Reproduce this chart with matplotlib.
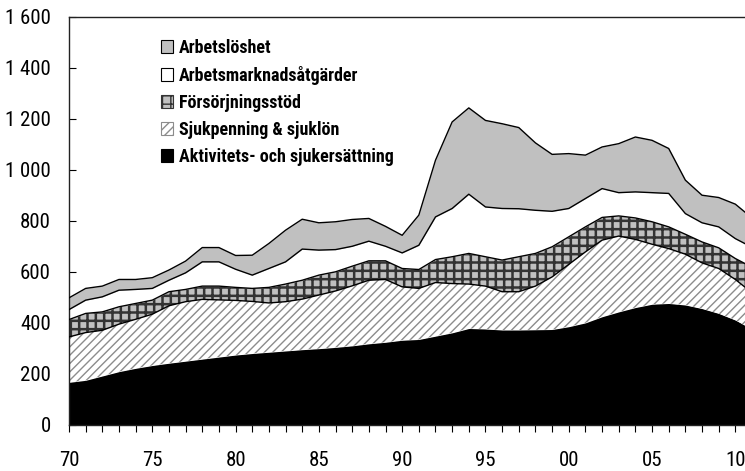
import matplotlib
matplotlib.use("Agg")
import matplotlib.pyplot as plt
from matplotlib import font_manager
from matplotlib.patches import Patch
import numpy as np

# ---------------------------------------------------------------- data
years = list(range(1970, 2012))

aktivitet = [167, 175, 192, 209, 222, 233, 242, 250, 258, 266,
             274, 280, 285, 290, 295, 299, 304, 310, 318, 324,
             332, 335, 348, 361, 378, 376, 372, 372, 373, 374,
             385, 400, 424, 443, 460, 473, 476, 470, 456, 437,
             411, 375]
sjukpenning = [178, 187, 179, 186, 192, 201, 225, 233, 234, 224,
               214, 204, 193, 193, 198, 210, 221, 235, 249, 246,
               209, 200, 210, 193, 174, 168, 150, 150, 171, 206,
               244, 278, 300, 297, 267, 235, 215, 199, 179, 176,
               159, 143]
forsorjning = [68, 75, 72, 68, 62, 55, 55, 48, 52, 54,
               51, 51, 61, 69, 74, 78, 75, 77, 76, 73,
               72, 74, 90, 105, 120, 115, 124, 137, 128, 118,
               108, 98, 89, 79, 84, 88, 85, 78, 82, 81,
               82, 100]
atgarder = [39, 52, 59, 65, 55, 46, 45, 65, 95, 95,
            71, 52, 74, 87, 122, 98, 87, 78, 77, 57,
            61, 95, 167, 189, 232, 195, 202, 188, 169, 139,
            111, 111, 113, 91, 102, 114, 131, 81, 75, 82,
            78, 78]
arbetsloshet = [46, 46, 42, 42, 39, 42, 40, 46, 56, 56,
                54, 78, 98, 124, 117, 107, 109, 105, 89, 78,
                69, 118, 222, 339, 338, 339, 332, 318, 264, 223,
                215, 170, 163, 192, 215, 205, 176, 131, 108, 115,
                135, 115]

labels = ["Aktivitets- och sjukersättning", "Sjukpenning & sjuklön",
          "Försörjningsstöd", "Arbetsmarknadsåtgärder", "Arbetslöshet"]
yticks = [0, 200, 400, 600, 800, 1000, 1200, 1400, 1600]
xticks = [1970, 1975, 1980, 1985, 1990, 1995, 2000, 2005, 2010]
xticklabels = ["70", "75", "80", "85", "90", "95", "00", "05", "10"]

# ---------------------------------------------------------------- fonts
available = {f.name for f in font_manager.fontManager.ttflist}
FONT = "DejaVu Sans"
for cand in ["Liberation Sans Narrow", "Roboto Condensed", "Open Sans Condensed",
             "Liberation Sans"]:
    if cand in available:
        FONT = cand
        break
plt.rcParams["font.family"] = [FONT, "DejaVu Sans"]

# ---------------------------------------------------------------- styles
# (facecolor, hatch colour, hatch, hatch linewidth) per layer, bottom to top
styles = [
    ("black", "black", None, 1.0),
    ("white", "#8c8c8c", "////", 1.0),
    ("#c0c0c0", "#333333", "++", 1.8),
    ("white", "white", None, 1.0),
    ("#c0c0c0", "#c0c0c0", None, 1.0),
]

series = [aktivitet, sjukpenning, forsorjning, atgarder, arbetsloshet]
x = np.array(years)
tops = np.cumsum(np.array(series), axis=0)

fig = plt.figure(figsize=(7.45, 4.71), dpi=100)
ax = fig.add_axes([69 / 745, 46 / 471, 683 / 745, 408.5 / 471])

bottom = np.zeros(len(years))
for i, (fc, hc, hatch, hlw) in enumerate(styles):
    with plt.rc_context({"hatch.linewidth": hlw}):
        ax.fill_between(x, bottom, tops[i], facecolor=fc, edgecolor=hc,
                        hatch=hatch, linewidth=0, zorder=2)
    bottom = tops[i]
for i in range(1, len(styles)):
    ax.plot(x, tops[i], color="black", linewidth=1.0, zorder=3)

ax.set_xlim(1970, 2011)
ax.set_ylim(0, 1600)

ax.set_yticks(yticks)
ax.set_yticklabels([f"{v:,}".replace(",", " ") for v in yticks])
ax.set_xticks(xticks)
ax.set_xticklabels(xticklabels)
ax.set_xticks(years, minor=True)

ax.tick_params(axis="y", direction="in", length=5, width=0.8, pad=13,
               labelsize=15)
ax.tick_params(axis="x", which="both", direction="out", length=5, width=0.8,
               pad=14, labelsize=15)

for s in ["left", "top", "bottom", "right"]:
    ax.spines[s].set_linewidth(1.0)
    ax.spines[s].set_color("#222222")

handles = []
for i in reversed(range(len(styles))):
    fc, hc, hatch, hlw = styles[i]
    ec = "black" if hatch is None else hc
    handles.append(Patch(facecolor=fc, edgecolor=ec, hatch=hatch, linewidth=0.8))
leg = ax.legend(handles, list(reversed(labels)), loc="upper left",
                bbox_to_anchor=(0.134, 0.945), frameon=False, borderpad=0,
                borderaxespad=0, handlelength=0.7, handleheight=0.7,
                handletextpad=0.3, labelspacing=0.5,
                prop={"size": 13, "weight": "bold"})

fig.savefig("out.png", dpi=100)
